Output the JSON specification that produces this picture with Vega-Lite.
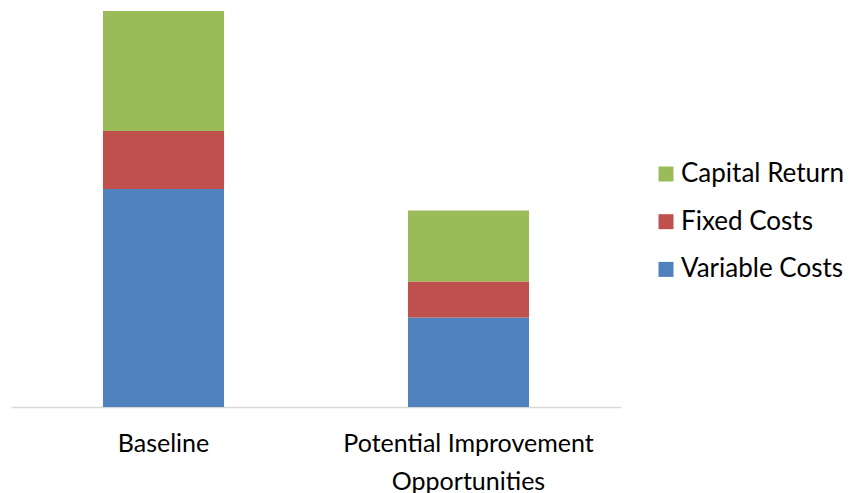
{
  "$schema": "https://vega.github.io/schema/vega-lite/v6.json",
  "width": 610,
  "height": 396,
  "autosize": "none",
  "padding": {"left": 11, "top": 11, "right": 229, "bottom": 86},
  "background": "white",
  "data": {
    "values": [
      {"category": "Baseline", "component": "Variable Costs", "value": 218, "rank": 1},
      {"category": "Baseline", "component": "Fixed Costs", "value": 58, "rank": 2},
      {"category": "Baseline", "component": "Capital Return", "value": 120, "rank": 3},
      {"category": "Potential Improvement Opportunities", "component": "Variable Costs", "value": 89.5, "rank": 1},
      {"category": "Potential Improvement Opportunities", "component": "Fixed Costs", "value": 36, "rank": 2},
      {"category": "Potential Improvement Opportunities", "component": "Capital Return", "value": 71, "rank": 3}
    ]
  },
  "mark": {"type": "bar"},
  "encoding": {
    "x": {
      "field": "category",
      "type": "nominal",
      "sort": null,
      "scale": {"paddingInner": 0.603, "paddingOuter": 0.3015},
      "axis": {
        "title": null,
        "labelAngle": 0,
        "labelFont": "Lato",
        "labelFontSize": 25,
        "labelColor": "#000000",
        "labelPadding": 24,
        "labelLineHeight": 38,
        "labelLimit": 0,
        "labelOverlap": false,
        "labelExpr": "datum.value == 'Potential Improvement Opportunities' ? ['Potential Improvement', 'Opportunities'] : datum.value",
        "ticks": false,
        "domainColor": "#d9d9d9",
        "domainWidth": 1.5,
        "grid": false
      }
    },
    "y": {
      "field": "value",
      "type": "quantitative",
      "stack": "zero",
      "scale": {"domain": [0, 396], "nice": false},
      "axis": null
    },
    "color": {
      "field": "component",
      "type": "nominal",
      "scale": {
        "domain": ["Capital Return", "Fixed Costs", "Variable Costs"],
        "range": ["#9BBB59", "#C0504D", "#4F81BD"]
      },
      "legend": {
        "title": null,
        "orient": "none",
        "legendX": 642,
        "legendY": 150,
        "symbolType": "square",
        "symbolSize": 225,
        "symbolStrokeWidth": 0,
        "labelFont": "Lato",
        "labelFontSize": 26,
        "labelColor": "#000000",
        "labelOffset": 2,
        "labelLimit": 0,
        "rowPadding": 21.7
      }
    },
    "order": {"field": "rank", "type": "quantitative", "sort": "ascending"}
  },
  "config": {"view": {"stroke": null}}
}
